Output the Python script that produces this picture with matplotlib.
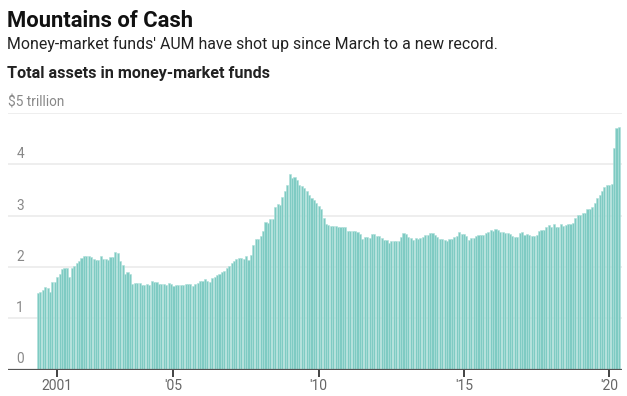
import matplotlib
matplotlib.use('Agg')
import matplotlib.pyplot as plt
import numpy as np

# Monthly total assets in money-market funds, $ trillion (May 2000 .. May 2020)
start_month = '2000-05'
assets = [
    # 2000-05 .. 2003-08
    1.50, 1.52, 1.54, 1.61, 1.59, 1.52, 1.70, 1.70, 1.80, 1.86,
    1.96, 1.98, 1.98, 1.80, 1.98, 2.02, 2.08, 2.12, 2.18, 2.21,
    2.21, 2.21, 2.20, 2.16, 2.14, 2.14, 2.21, 2.16, 2.16, 2.14,
    2.20, 2.20, 2.29, 2.27, 2.12, 2.04, 1.86, 1.90, 1.86, 1.67,
    # 2003-09 ..
    1.69, 1.69, 1.69, 1.65, 1.65, 1.67, 1.65, 1.73, 1.71, 1.71,
    1.67, 1.67, 1.67, 1.65, 1.69, 1.67, 1.63, 1.65, 1.65, 1.65,
    1.65, 1.67, 1.67, 1.67, 1.63, 1.67, 1.69, 1.73, 1.73, 1.77,
    1.73, 1.71, 1.79, 1.80, 1.84, 1.86, 1.90, 1.92, 1.98,
    # crisis run-up and peak
    2.01, 2.07, 2.11, 2.15, 2.17, 2.17, 2.15, 2.21, 2.13, 2.23,
    2.43, 2.54, 2.54, 2.61, 2.70, 2.87, 2.85, 2.94, 2.94, 3.17,
    3.23, 3.21, 3.37, 3.48, 3.60, 3.81, 3.74, 3.76, 3.69, 3.60,
    3.57, 3.53, 3.48, 3.40, 3.34, 3.30, 3.24, 3.19, 3.13,
    # 2010 ..
    2.96, 2.84, 2.82, 2.80, 2.80, 2.80, 2.78, 2.77, 2.78, 2.78,
    2.70, 2.70, 2.70, 2.70, 2.68, 2.64, 2.54, 2.58, 2.58, 2.56,
    2.64, 2.65, 2.61, 2.61, 2.56, 2.53, 2.53, 2.47, 2.50, 2.50,
    2.50, 2.50, 2.58, 2.67, 2.64, 2.59, 2.56, 2.53, 2.56,
    # 2013 ..
    2.55, 2.57, 2.59, 2.63, 2.63, 2.67, 2.67, 2.63, 2.59, 2.55,
    2.55, 2.53, 2.51, 2.55, 2.55, 2.59, 2.61, 2.68, 2.65, 2.65,
    2.61, 2.53, 2.57, 2.57, 2.61, 2.63, 2.63, 2.63, 2.67, 2.68,
    2.72, 2.70, 2.74, 2.72, 2.68, 2.68, 2.67, 2.67, 2.65, 2.61,
    # 2016-10 .. 2020-05
    2.59, 2.58, 2.66, 2.68, 2.62, 2.65, 2.62, 2.60, 2.60, 2.62,
    2.70, 2.72, 2.72, 2.78, 2.81, 2.78, 2.84, 2.78, 2.78, 2.84,
    2.80, 2.82, 2.84, 2.84, 2.86, 2.95, 3.02, 3.02, 3.06, 3.06,
    3.13, 3.13, 3.17, 3.25, 3.34, 3.40, 3.48, 3.55, 3.60, 3.59,
    3.62, 4.31, 4.71, 4.73,
]
tick_months = ['2001-01', '2005-01', '2010-01', '2015-01', '2020-01']
tick_labels = ['2001', "'05", "'10", "'15", "'20"]
y_ticks = [0, 1, 2, 3, 4, 5]
y_labels = ['0', '1', '2', '3', '4', '$5 trillion']

W, H = 627, 396
fig = plt.figure(figsize=(W / 100, H / 100), dpi=100)
plt.rcParams['font.family'] = ['Roboto', 'DejaVu Sans']


def fx(px):
    return px / W


def fy(py):
    return 1 - py / H


# axes placed in pixel terms
ax_left, ax_right = 8, 622
y_base, y_top = 369.5, 113.0
ymax = 5.0
ax = fig.add_axes([fx(ax_left), fy(y_base), (ax_right - ax_left) / W, (y_base - y_top) / H])

months = np.arange(len(assets))
ax.bar(months, assets, width=0.86, color='#7fcbc3', edgecolor='#aee0da', linewidth=0.4, zorder=2)

# first bar centre ~37.9px, 2.421 px per month
pitch = 2.421
x0 = 37.9
ax.set_xlim((ax_left - x0) / pitch, (ax_right - x0) / pitch)
ax.set_ylim(0, ymax)

for s in ax.spines.values():
    s.set_visible(False)
ax.axhline(0, color='#555555', lw=1.6, zorder=3)
for v in y_ticks[1:]:
    ax.axhline(v, color='#ebebeb', lw=1.2, zorder=1)

base = np.datetime64(start_month, 'M')
tick_pos = [int(np.datetime64(m, 'M') - base) for m in tick_months]
ax.set_xticks(tick_pos)
ax.set_xticklabels(tick_labels, fontsize=10, color='#666666')
ax.tick_params(axis='x', length=5, width=1.2, color='#222222', pad=2)
ax.set_yticks([])

for v, lab in zip(y_ticks, y_labels):
    xpos = 0 if lab.startswith('$') else 0.0135
    ax.text(xpos, v + 0.06, lab, transform=ax.get_yaxis_transform(),
            ha='left', va='bottom', fontsize=9.8, color='#888888', zorder=4)

fig.text(fx(7), fy(27), 'Mountains of Cash', fontsize=15.8, fontweight='bold',
         color='#111111', va='baseline', ha='left')
fig.text(fx(7), fy(49), "Money-market funds' AUM have shot up since March to a new record.",
         fontsize=11.4, color='#222222', va='baseline', ha='left')
fig.text(fx(7), fy(78), 'Total assets in money-market funds', fontsize=11.6,
         fontweight='bold', color='#222222', va='baseline', ha='left')

fig.savefig('out.png', dpi=100)
